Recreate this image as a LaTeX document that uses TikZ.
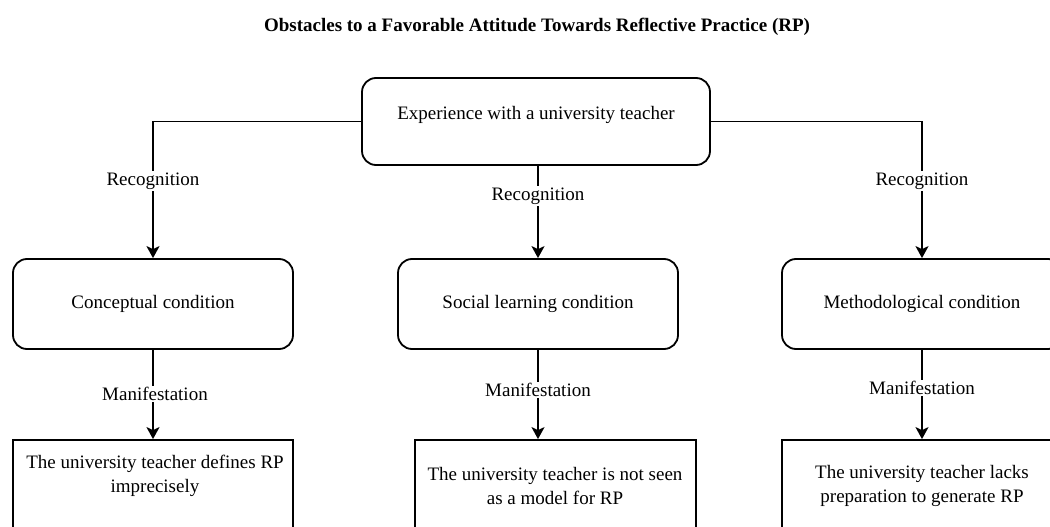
\documentclass[tikz,border=0pt]{standalone}
\usepackage{fontspec}
\setmainfont{Liberation Serif}
\usetikzlibrary{arrows.meta}
\begin{document}
\begin{tikzpicture}[x=1pt,y=-1pt,
  txt/.style={font=\fontsize{19}{24}\selectfont, align=center, inner sep=1pt},
  rbox/.style={draw, line width=1.8pt, rounded corners=14pt, minimum width=280pt, minimum height=90pt, inner sep=0pt, font=\fontsize{19}{24}\selectfont},
  sbox/.style={draw, line width=1.8pt, minimum width=280pt, minimum height=100pt, inner sep=0pt},
  conn/.style={line width=1.8pt, -{Stealth[length=12pt,width=13pt,inset=3pt]}},
  lab/.style={fill=white, font=\fontsize{19}{24}\selectfont, inner sep=1.5pt}]
\useasboundingbox (0,0) rectangle (1050,527);
\clip (0,0) rectangle (1050,527);
\fill[white] (0,0) rectangle (1050,527);

\node[font=\fontsize{19}{24}\selectfont\bfseries] (title) at (537,27) {Obstacles to a Favorable Attitude Towards Reflective Practice (RP)};

\node[rbox, minimum width=348pt, minimum height=87pt] (top) at (536,121.5) {};
\node[txt] (toptxt) at (536,115) {Experience with a university teacher};

\node[rbox] (c1) at (153,304) {Conceptual condition};
\node[rbox] (c2) at (538,304) {Social learning condition};
\node[rbox] (c3) at (922,304) {Methodological condition};

\node[sbox] (b1) at (153,490) {};
\node[sbox, minimum width=281pt] (b2) at (555.5,490) {};
\node[sbox] (b3) at (922,490) {};

\node[txt] (t1) at (155,476) {The university teacher defines RP\\imprecisely};
\node[txt] (t2) at (555,486) {The university teacher is not seen\\as a model for RP};
\node[txt] (t3) at (922,486) {The university teacher lacks\\preparation to generate RP};

\draw[conn] (top.west) -| (c1.north);
\draw[conn] (top.east) -| (c3.north);
\draw[conn] (top.south -| c2.north) -- (c2.north);

\draw[conn] (c1.south) -- (c1.south |- b1.north);
\draw[conn] (c2.south) -- (c2.south |- b2.north);
\draw[conn] (c3.south) -- (c3.south |- b3.north);

\node[lab] (r1) at (153,181) {Recognition};
\node[lab] (r2) at (538,196) {Recognition};
\node[lab] (r3) at (922,181) {Recognition};

\node[lab] (m1) at (155,394) {Manifestation};
\node[lab] (m2) at (538,390) {Manifestation};
\node[lab] (m3) at (922,388) {Manifestation};
\end{tikzpicture}
\end{document}
